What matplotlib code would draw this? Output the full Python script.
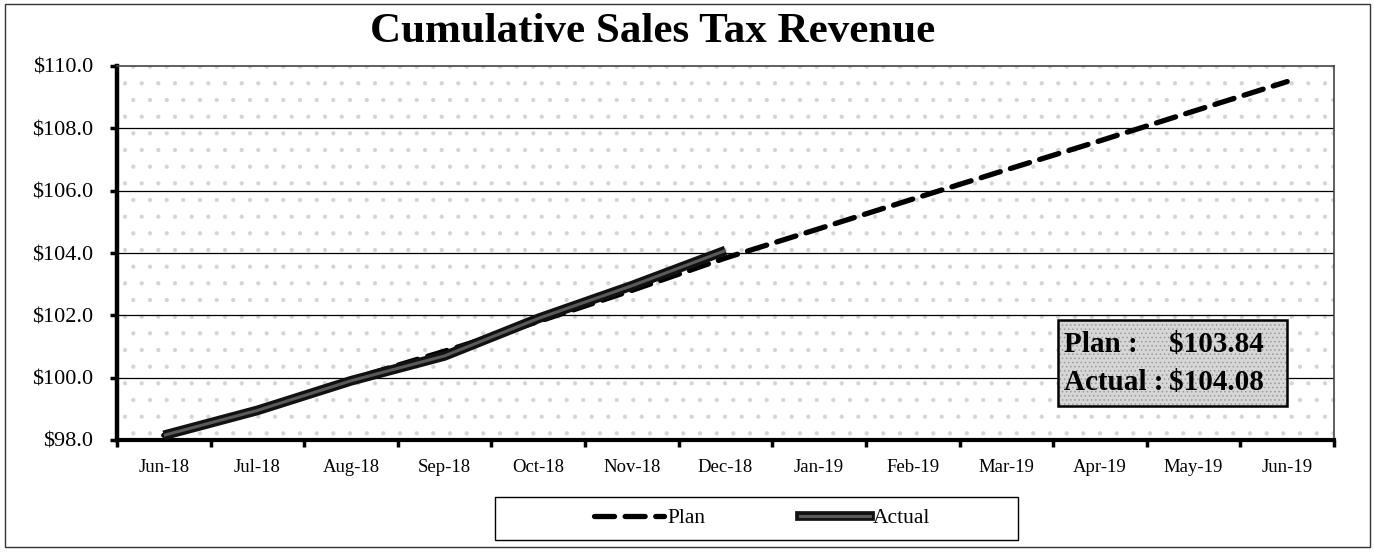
import numpy as np
import matplotlib
matplotlib.use("Agg")
import matplotlib.pyplot as plt
from matplotlib.patches import Rectangle
from matplotlib.lines import Line2D

months = ["Jun-18", "Jul-18", "Aug-18", "Sep-18", "Oct-18", "Nov-18", "Dec-18",
          "Jan-19", "Feb-19", "Mar-19", "Apr-19", "May-19", "Jun-19"]
plan = [98.15, 99.0, 99.95, 100.85, 101.8, 102.8, 103.84,
        104.78, 105.73, 106.67, 107.6, 108.55, 109.5]
actual = [98.15, 98.95, 99.9, 100.7, 101.9, 102.95, 104.08]
yticks = [98, 100, 102, 104, 106, 108, 110]

plt.rcParams['font.family'] = ['Liberation Serif', 'DejaVu Serif']
plt.rcParams['hatch.linewidth'] = 0.6

fig = plt.figure(figsize=(13.74, 5.52), dpi=100)
ax = fig.add_axes([117/1374, 1-440/552, (1334-117)/1374, (440-66)/552])

x = np.arange(len(months))
xa = np.arange(len(actual))

# stippled plot area
ax.add_patch(Rectangle((0, 0), 1, 1, transform=ax.transAxes, facecolor='white',
                       hatch='.', edgecolor='#d4d4d4', lw=0, zorder=0))

for v in yticks[1:-1]:
    ax.axhline(v, color='black', lw=0.9, zorder=1)

ax.plot(x, plan, color='black', lw=3.8, dashes=(3.8, 2.0), dash_capstyle='round', zorder=3)
ax.plot(xa, actual, color='#111111', lw=7, solid_capstyle='butt', zorder=4)
ax.plot(xa, actual, color='#5a5a5a', lw=2.2, solid_capstyle='butt', zorder=5)

ax.set_xlim(-0.5, len(months) - 0.5)
ax.set_ylim(98, 110)
ax.set_yticks(yticks)
ax.set_yticklabels(["$%.1f" % v for v in yticks], fontsize=16)
ax.set_xticks(x)
ax.set_xticklabels(months, fontsize=13.5)
ax.set_xticks(np.arange(-0.5, len(months)), minor=True)
ax.tick_params(axis='x', which='major', length=0, pad=14)
ax.tick_params(axis='x', which='minor', length=5, width=2.5, direction='out')
ax.tick_params(axis='y', length=5, width=2.5, direction='out', pad=12)

ax.spines['left'].set_linewidth(3.2)
ax.spines['bottom'].set_linewidth(3)
for s in ['top', 'right']:
    ax.spines[s].set_linewidth(1.2)
    ax.spines[s].set_color('#444444')

# value box
ax.add_patch(Rectangle((1058/1374, 1-406/552), (1287-1058)/1374, (406-320)/552,
                       transform=fig.transFigure, facecolor='#d6d6d6', hatch='....',
                       edgecolor='#9a9a9a', lw=0, zorder=6))
ax.add_patch(Rectangle((1058/1374, 1-406/552), (1287-1058)/1374, (406-320)/552,
                       transform=fig.transFigure, facecolor='none',
                       edgecolor='black', lw=1.8, zorder=7))
fig.text(1064/1374, 1-344/552, "Plan :", fontsize=21, fontweight='bold', va='center', ha='left', zorder=8)
fig.text(1264/1374, 1-344/552, "$%.2f" % plan[6], fontsize=21, fontweight='bold', va='center', ha='right', zorder=8)
fig.text(1064/1374, 1-382/552, "Actual :", fontsize=21, fontweight='bold', va='center', ha='left', zorder=8)
fig.text(1264/1374, 1-382/552, "$%.2f" % actual[6], fontsize=21, fontweight='bold', va='center', ha='right', zorder=8)

fig.text(653/1374, 1-32/552, "Cumulative Sales Tax Revenue", fontsize=31,
         fontweight='bold', ha='center', va='center')

# legend
h_plan = Line2D([], [], color='black', lw=3.8, dashes=(3.8, 2.0), dash_capstyle='round')
h_act1 = Line2D([], [], color='#111111', lw=7)
h_act2 = Line2D([], [], color='#5a5a5a', lw=2.2)
fig.legend([h_plan, (h_act1, h_act2)], ["Plan", "Actual"], loc='center',
           bbox_to_anchor=(762/1374, 1-518/552), ncol=2, frameon=False,
           fontsize=15.5, handlelength=3.25, columnspacing=4.4, handletextpad=0.15)
fig.add_artist(Rectangle((495/1374, 1-540/552), (1018-495)/1374, (540-497)/552,
                         transform=fig.transFigure, facecolor='none', edgecolor='black', lw=1))

# outer border
fig.add_artist(Rectangle((5/1374, 1-547/552), (1370-5)/1374, (547-4)/552,
                         transform=fig.transFigure, facecolor='none', edgecolor='#333333', lw=1))

fig.savefig("out.png", dpi=100)
